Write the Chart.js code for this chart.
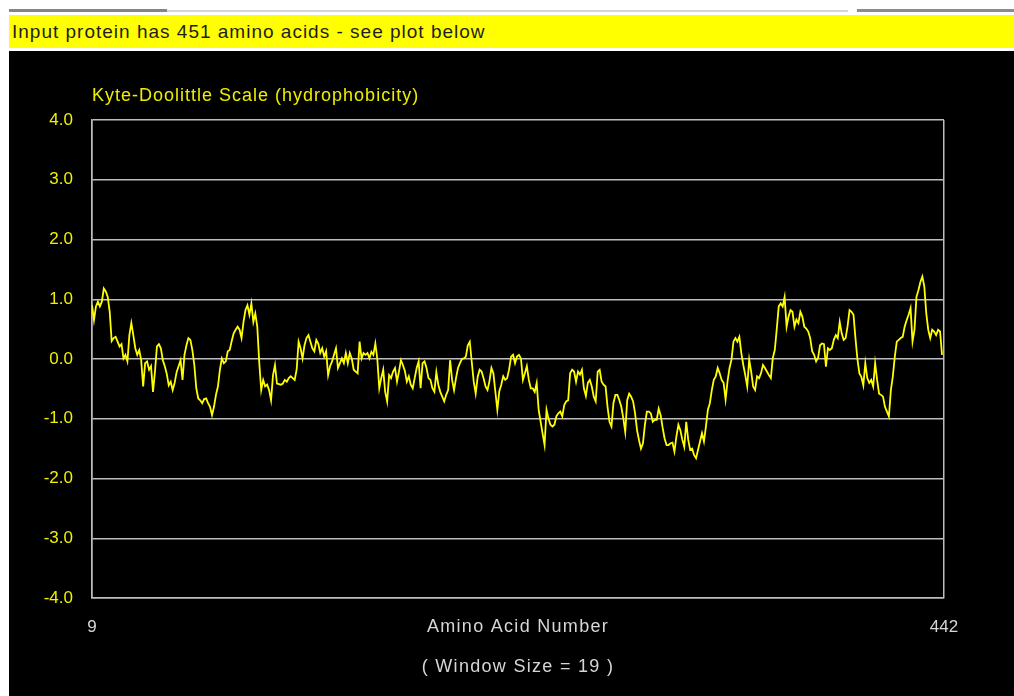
<!DOCTYPE html>
<html>
<head>
<meta charset="utf-8">
<title>Kyte-Doolittle hydrophobicity plot</title>
<script src="https://cdn.jsdelivr.net/npm/chart.js@4.4.1/dist/chart.umd.min.js"></script>
<style>
  html, body { margin: 0; padding: 0; background: #ffffff; }
  body { width: 1014px; height: 696px; position: relative; overflow: hidden; font-family: "Liberation Sans", Arial, sans-serif; }
  #tabline1 { position: absolute; left: 9px; top: 9px; width: 158px; height: 3px; background: #858585; }
  #tabline2 { position: absolute; left: 167px; top: 10px; width: 681px; height: 2px; background: #d4d4d4; }
  #tabline3 { position: absolute; left: 857px; top: 9px; width: 157px; height: 3px; background: #8c8c8c; }
  #header {
    position: absolute; left: 9px; top: 15px; width: 1005px; height: 33px;
    background: #ffff00; color: #1e1e1e; font-size: 19px; letter-spacing: 1px; line-height: 33px;
    padding-left: 3px; box-sizing: border-box; white-space: nowrap;
  }
  #plot { position: absolute; left: 9px; top: 51px; width: 1005px; height: 645px; background: #000000; }
</style>
</head>
<body>
<div id="tabline1"></div>
<div id="tabline2"></div>
<div id="tabline3"></div>
<div id="header">Input protein has 451 amino acids - see plot below</div>
<div id="plot"><canvas id="hydroChart"></canvas></div>

<script>
// hydropathy scores, one per residue starting at residue 9
const firstResidue = 9;
const lastResidue = 442;
const hydropathy = [
  0.90, 0.65, 0.88, 0.96, 0.88, 0.96, 1.18, 1.13, 1.04, 0.79,          // 9
  0.30, 0.35, 0.37, 0.29, 0.21, 0.25, 0.01, 0.07, -0.04, 0.40,         // 19
  0.60, 0.40, 0.18, 0.07, 0.15, -0.02, -0.46, -0.07, -0.04, -0.18,     // 29
  -0.12, -0.55, -0.21, 0.21, 0.25, 0.18, -0.02, -0.12, -0.25, -0.44,   // 39
  -0.38, -0.52, -0.40, -0.22, -0.12, -0.02, -0.35, 0.07, 0.23, 0.35,   // 49
  0.32, 0.15, -0.10, -0.49, -0.66, -0.69, -0.74, -0.67, -0.66, -0.74,  // 59
  -0.80, -0.94, -0.80, -0.60, -0.46, -0.18, 0.01, -0.07, -0.04, 0.13,  // 69
  0.15, 0.30, 0.43, 0.49, 0.54, 0.49, 0.35, 0.62, 0.82, 0.90,          // 79
  0.74, 0.93, 0.62, 0.76, 0.54, -0.06, -0.52, -0.35, -0.46, -0.43,     // 89
  -0.52, -0.69, -0.27, -0.10, -0.41, -0.42, -0.43, -0.41, -0.35, -0.38, // 99
  -0.32, -0.29, -0.32, -0.35, -0.18, 0.29, 0.18, 0.01, 0.23, 0.35,     // 109
  0.40, 0.29, 0.18, 0.13, 0.32, 0.26, 0.10, 0.18, 0.04, 0.13,          // 119
  -0.27, -0.12, -0.04, 0.07, 0.18, -0.15, -0.07, 0.01, -0.07, 0.10,    // 129
  -0.07, 0.10, 0.01, -0.18, -0.21, -0.24, 0.29, 0.01, 0.10, 0.07,      // 139
  0.10, 0.01, 0.12, 0.07, 0.26, 0.00, -0.49, -0.32, -0.18, -0.55,      // 149
  -0.71, -0.27, -0.32, -0.21, -0.15, -0.38, -0.21, -0.02, -0.10, -0.20, // 159
  -0.38, -0.29, -0.43, -0.49, -0.32, -0.15, -0.04, -0.49, -0.07, -0.04, // 169
  -0.15, -0.32, -0.35, -0.49, -0.55, -0.22, -0.43, -0.55, -0.63, -0.71, // 179
  -0.60, -0.52, -0.02, -0.35, -0.52, -0.32, -0.15, -0.07, 0.00, 0.01,  // 189
  0.04, 0.23, 0.29, -0.05, -0.38, -0.58, -0.30, -0.18, -0.21, -0.32,   // 199
  -0.46, -0.52, -0.37, -0.15, -0.24, -0.55, -0.85, -0.54, -0.43, -0.29, // 209
  -0.35, -0.32, -0.17, 0.04, 0.07, -0.07, 0.04, 0.07, 0.01, -0.35,     // 219
  -0.24, -0.12, -0.35, -0.49, -0.49, -0.55, -0.40, -0.85, -1.05, -1.25, // 229
  -1.44, -0.85, -1.00, -1.10, -1.13, -1.10, -0.96, -0.91, -0.88, -0.96, // 239
  -0.77, -0.71, -0.69, -0.24, -0.18, -0.21, -0.38, -0.21, -0.26, -0.18, // 249
  -0.49, -0.62, -0.40, -0.35, -0.46, -0.63, -0.71, -0.21, -0.18, -0.38, // 259
  -0.43, -0.46, -0.80, -1.05, -1.13, -0.74, -0.60, -0.60, -0.69, -0.80, // 269
  -0.99, -1.22, -0.69, -0.58, -0.63, -0.71, -0.91, -1.19, -1.36, -1.50, // 279
  -1.41, -1.10, -0.88, -0.88, -0.91, -1.05, -1.02, -1.02, -0.83, -0.94, // 289
  -1.15, -1.33, -1.44, -1.44, -1.41, -1.40, -1.55, -1.30, -1.10, -1.19, // 299
  -1.35, -1.47, -1.05, -1.35, -1.52, -1.50, -1.61, -1.66, -1.52, -1.38, // 309
  -1.24, -1.38, -1.13, -0.85, -0.74, -0.52, -0.35, -0.29, -0.15, -0.24, // 319
  -0.35, -0.40, -0.68, -0.37, -0.15, -0.01, 0.29, 0.35, 0.29, 0.37,    // 329
  0.10, -0.10, -0.27, -0.46, -0.01, -0.21, -0.46, -0.52, -0.29, -0.32, // 339
  -0.24, -0.10, -0.15, -0.21, -0.27, -0.32, 0.02, 0.15, 0.50, 0.88,    // 349
  0.93, 0.88, 1.04, 0.54, 0.71, 0.82, 0.79, 0.54, 0.66, 0.60,          // 359
  0.79, 0.71, 0.54, 0.51, 0.46, 0.35, 0.13, 0.07, -0.04, 0.02,         // 369
  0.23, 0.26, 0.25, -0.13, 0.18, 0.15, 0.18, 0.32, 0.40, 0.35,         // 379
  0.62, 0.43, 0.32, 0.35, 0.55, 0.82, 0.79, 0.74, 0.35, 0.00,          // 389
  -0.24, -0.30, -0.44, -0.07, -0.32, -0.40, -0.35, -0.46, -0.07, -0.35, // 399
  -0.58, -0.60, -0.63, -0.80, -0.88, -0.96, -0.52, -0.29, 0.04, 0.29,  // 409
  0.32, 0.35, 0.37, 0.54, 0.65, 0.74, 0.85, 0.29, 0.49, 1.04,          // 419
  1.15, 1.29, 1.38, 1.21, 0.76, 0.49, 0.35, 0.49, 0.46, 0.40,          // 429
  0.49, 0.46, 0.07                                                     // 439
];
const xTickValues = [9, 442];
const yMin = -4;
const yMax = 4;
const chartHeading = "Kyte-Doolittle Scale (hydrophobicity)";
const xAxisTitle = ["Amino Acid Number", "( Window Size = 19 )"];

const FONT = "'Liberation Sans', Arial, sans-serif";
const GRID = "#bdbdbd";
const LABEL = "#d6d6d6";

const points = hydropathy.map((v, i) => ({ x: firstResidue + i, y: v }));

// heading above the box and the two-line axis caption under it
// (drawn here so they can get the wide letter spacing of the original)
const captionPlugin = {
  id: "captions",
  afterDraw(chart) {
    const { ctx, chartArea } = chart;
    ctx.save();
    ctx.textBaseline = "middle";

    ctx.font = "18px " + FONT;
    ctx.letterSpacing = "1px";
    ctx.fillStyle = "#eeee00";
    ctx.textAlign = "left";
    ctx.fillText(chartHeading, chartArea.left, chartArea.top - 24);

    ctx.font = "18px " + FONT;
    ctx.letterSpacing = "1.3px";
    ctx.fillStyle = LABEL;
    ctx.textAlign = "center";
    const cx = (chartArea.left + chartArea.right) / 2;
    ctx.fillText(xAxisTitle[0], cx, chartArea.bottom + 29);
    ctx.fillText(xAxisTitle[1], cx, chartArea.bottom + 69);
    ctx.restore();
  }
};

new Chart(document.getElementById("hydroChart"), {
  type: "line",
  data: {
    datasets: [{
      data: points,
      borderColor: "#ffff00",
      borderWidth: 1.8,
      pointRadius: 0,
      tension: 0,
      fill: false
    }]
  },
  options: {
    responsive: true,
    maintainAspectRatio: false,
    animation: false,
    layout: { padding: { top: 69, right: 70, left: 0, bottom: 0 } },
    plugins: {
      legend: { display: false },
      tooltip: { enabled: false },
      title: { display: false }
    },
    scales: {
      x: {
        type: "linear",
        min: firstResidue,
        max: lastResidue,
        afterBuildTicks: (scale) => { scale.ticks = xTickValues.map(v => ({ value: v })); },
        afterFit: (scale) => { scale.height = 98; },
        ticks: {
          color: LABEL,
          font: { family: FONT, size: 17 },
          padding: 19,
          autoSkip: false,
          maxRotation: 0
        },
        grid: { color: GRID, lineWidth: 1.5, drawTicks: false },
        border: { color: GRID, width: 1.5 }
      },
      y: {
        min: yMin,
        max: yMax,
        afterFit: (scale) => { scale.width = 83; },
        ticks: {
          stepSize: 1,
          color: "#f0f000",
          font: { family: FONT, size: 17 },
          padding: 19,
          callback: (v) => Number(v).toFixed(1)
        },
        grid: { color: GRID, lineWidth: 1.5, drawTicks: false },
        border: { color: GRID, width: 1.5 }
      }
    }
  },
  plugins: [captionPlugin]
});
</script>
</body>
</html>
